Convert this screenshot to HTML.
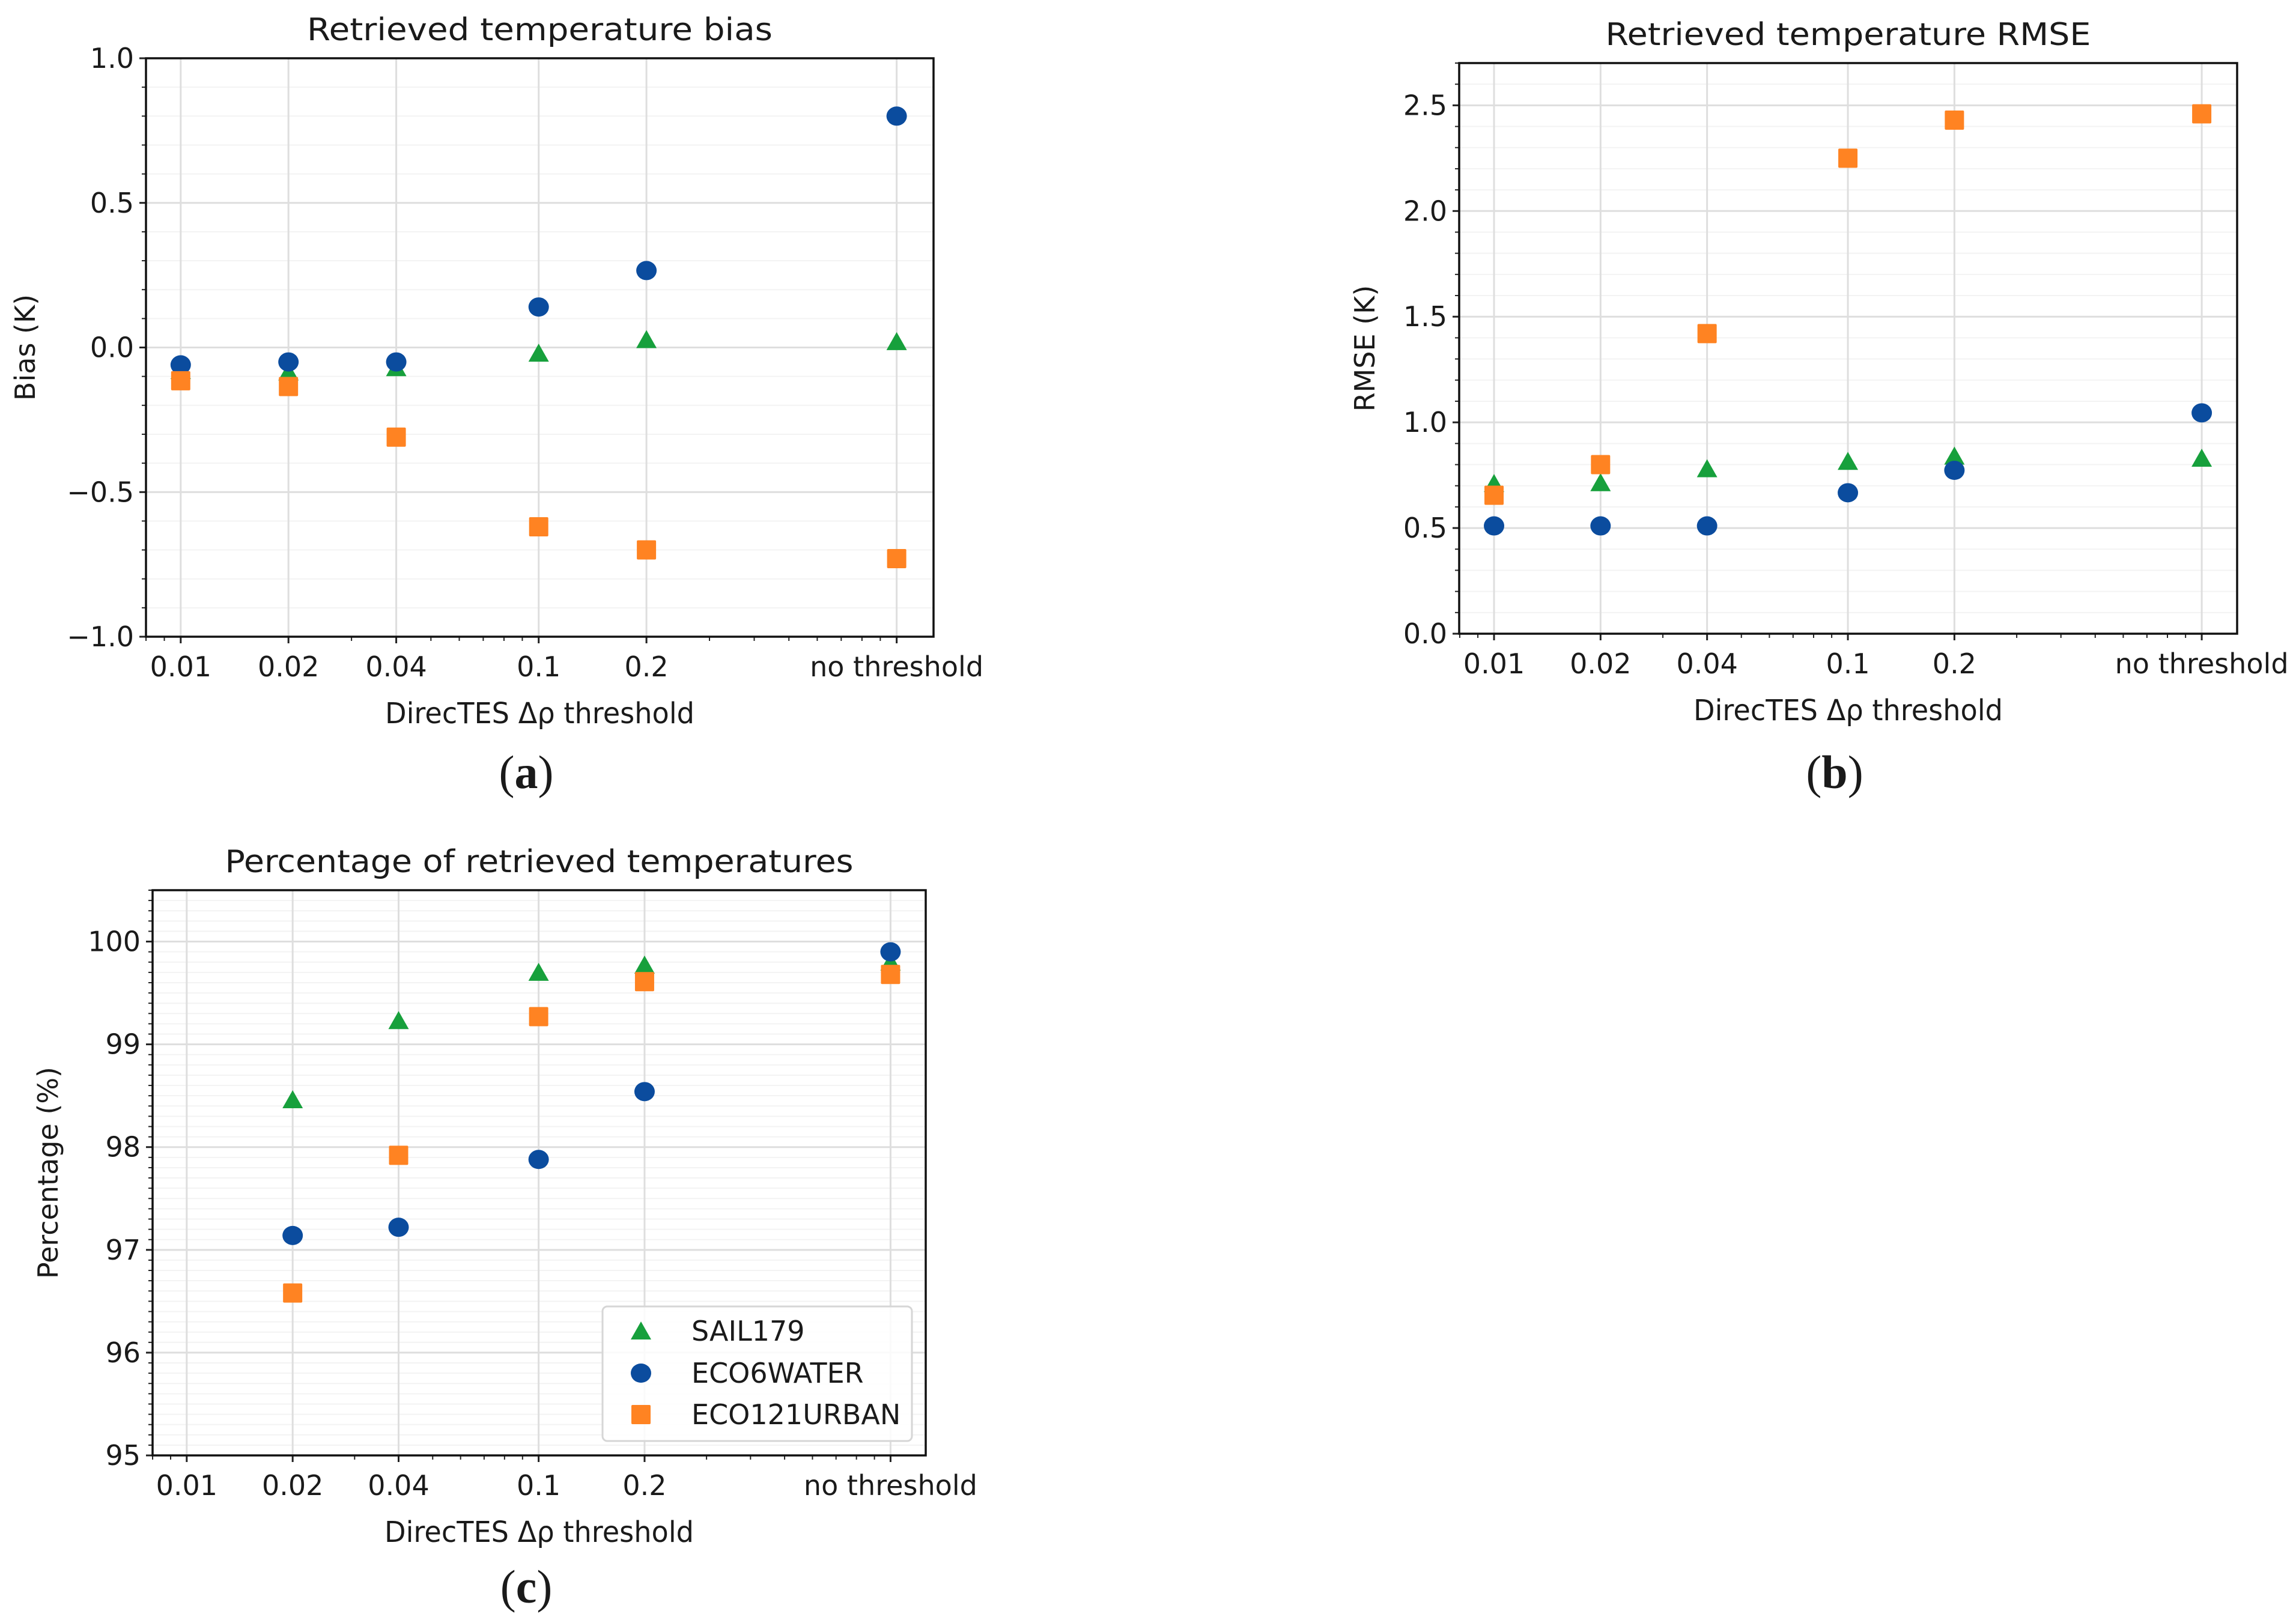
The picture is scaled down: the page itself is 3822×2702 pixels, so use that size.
<!DOCTYPE html>
<html><head><meta charset="utf-8">
<style>
html,body{margin:0;padding:0;background:#fff;}
svg{display:block;}
text{font-family:"DejaVu Sans","Liberation Sans",sans-serif;fill:#1a1a1a;}
.plab{font-family:"Liberation Serif",serif;}
</style></head>
<body>
<svg id="fig" width="3822" height="2702" viewBox="0 0 3822 2702" xmlns="http://www.w3.org/2000/svg"></svg>
<script>
const categories = ["0.01","0.02","0.04","0.1","0.2","no threshold"];
const catX = [0.01,0.02,0.04,0.1,0.2,1.0];
const biasSail = [-0.08,-0.085,-0.07,-0.02,0.027,0.02];
const biasWater = [-0.06,-0.05,-0.05,0.14,0.266,0.80];
const biasUrban = [-0.115,-0.135,-0.31,-0.62,-0.70,-0.73];
const rmseSail = [0.71,0.714,0.78,0.815,0.84,0.83];
const rmseWater = [0.51,0.51,0.51,0.667,0.773,1.045];
const rmseUrban = [0.655,0.80,1.42,2.25,2.43,2.46];
const pctSail = [null,98.46,99.23,99.70,99.77,99.80];
const pctWater = [null,97.14,97.22,97.88,98.54,99.90];
const pctUrban = [null,96.58,97.92,99.27,99.61,99.68];
const biasTicks = [-1.0,-0.5,0.0,0.5,1.0];
const biasTickLabels = ["\u22121.0","\u22120.5","0.0","0.5","1.0"];
const rmseTicks = [0,0.5,1.0,1.5,2.0,2.5];
const rmseTickLabels = ["0.0","0.5","1.0","1.5","2.0","2.5"];
const pctTicks = [95,96,97,98,99,100];
const pctTickLabels = ["95","96","97","98","99","100"];
const seriesNames = ["SAIL179","ECO6WATER","ECO121URBAN"];

const NS="http://www.w3.org/2000/svg";
const svg=document.getElementById('fig');
const COL={g:"#17a03c",b:"#0b4c9e",o:"#ff8322"};
function mk(tag,attrs,parent){const e=document.createElementNS(NS,tag);for(const k in attrs)e.setAttribute(k,attrs[k]);(parent||svg).appendChild(e);return e;}

function panel(cfg){
  const g=mk('g',{});
  
  
  const L=cfg.L,R=cfg.R,T=cfg.T,B=cfg.B;
  const xl=Math.log10(cfg.xmin),xr=Math.log10(cfg.xmax);
  const xs=v=>L+(Math.log10(v)-xl)/(xr-xl)*(R-L);
  const ys=v=>B-(v-cfg.ymin)/(cfg.ymax-cfg.ymin)*(B-T);
  for(let v=cfg.ymin;v<=cfg.ymax+1e-9;v+=cfg.minor){
    const y=ys(v);
    const l=mk('line',{x1:L,x2:R,y1:y,y2:y,stroke:"#f3f3f3","stroke-width":2},g);
    
    
    const t=mk('line',{x1:L-7,x2:L,y1:y,y2:y,stroke:"#222","stroke-width":2},g);
    
    
  }
  for(let d=-3;d<=1;d++){for(let m=1;m<10;m++){const v=m*Math.pow(10,d);if(v<cfg.xmin||v>cfg.xmax)continue;const x=xs(v);
    const t=mk('line',{x1:x,x2:x,y1:B,y2:B+7,stroke:"#222","stroke-width":2},g);
    
    }}
  cfg.yt.forEach((v,i)=>{const y=ys(v);
    const l=mk('line',{x1:L,x2:R,y1:y,y2:y,stroke:"#dedede","stroke-width":3},g);
    
    
    const t=mk('line',{x1:L-11,x2:L,y1:y,y2:y,stroke:"#222","stroke-width":3},g);
    
    
    const tx=mk('text',{x:L-20,y:y+16,'text-anchor':'end','font-size':46},g);
    tx.textContent=cfg.ytl[i];
    
    
  });
  categories.forEach((c,i)=>{const x=xs(catX[i]);
    const l=mk('line',{x1:x,x2:x,y1:T,y2:B,stroke:"#dedede","stroke-width":3},g);
    
    
    const t=mk('line',{x1:x,x2:x,y1:B,y2:B+11,stroke:"#222","stroke-width":3},g);
    
    
    const tx=mk('text',{x:x,y:B+66,'text-anchor':'middle','font-size':46},g);
    if(c==="no threshold"){tx.setAttribute('textLength',289);tx.setAttribute('lengthAdjust','spacingAndGlyphs');}
    tx.textContent=c;
    
    
  });
  const fr=mk('rect',{x:L,y:T,width:R-L,height:B-T,fill:"none",stroke:"#111","stroke-width":3.5},g);
  
  
  const drawS=(vals,kind,nm)=>{vals.forEach((v,i)=>{if(v===null)return;const x=xs(catX[i]),y=ys(v);let e;
    if(kind==='g')e=mk('polygon',{points:`${x},${y-16} ${x+17},${y+14} ${x-17},${y+14}`,fill:COL.g},g);
    else if(kind==='b')e=mk('ellipse',{cx:x,cy:y,rx:17,ry:16,fill:COL.b},g);
    else e=mk('rect',{x:x-16,y:y-16,width:32,height:32,rx:2,fill:COL.o},g);
    
    });};
  drawS(cfg.s[0],'g','sail179');drawS(cfg.s[1],'b','eco6water');drawS(cfg.s[2],'o','eco121urban');
  const ti=mk('text',{x:(L+R)/2,y:T-30,'text-anchor':'middle','font-size':52,textLength:cfg.tw,lengthAdjust:'spacingAndGlyphs'},g);
  ti.textContent=cfg.title;
  
  
  const xlab=mk('text',{x:(L+R)/2,y:B+144,'text-anchor':'middle','font-size':48,textLength:515,lengthAdjust:'spacingAndGlyphs'},g);
  xlab.textContent="DirecTES \u0394\u03C1 threshold";
  
  
  const yc=(T+B)/2;
  const ylab=mk('text',{x:cfg.ylx,y:yc,'text-anchor':'middle','font-size':46,transform:`rotate(-90 ${cfg.ylx} ${yc})`},g);
  ylab.textContent=cfg.ylabel;
  
  
  const pl=mk('text',{x:cfg.px,y:cfg.py,'text-anchor':'middle','font-size':78,'class':'plab'},g);
  pl.innerHTML='(<tspan font-weight="bold">'+cfg.plabel+'</tspan>)';
  
  
  return {g,xs,ys};
}

panel({name:'bias-panel',L:243,R:1554,T:97,B:1060,xmin:Math.pow(10,-2.097),xmax:Math.pow(10,0.103),ymin:-1,ymax:1,minor:0.1,
  yt:biasTicks,ytl:biasTickLabels,s:[biasSail,biasWater,biasUrban],title:"Retrieved temperature bias",tw:775,ylabel:"Bias (K)",ylx:58,plabel:'a',px:876,py:1312});
panel({name:'rmse-panel',L:2429,R:3724,T:105,B:1055,xmin:Math.pow(10,-2.0985),xmax:Math.pow(10,0.10),ymin:0,ymax:2.7,minor:0.1,
  yt:rmseTicks,ytl:rmseTickLabels,s:[rmseSail,rmseWater,rmseUrban],title:"Retrieved temperature RMSE",tw:808,ylabel:"RMSE (K)",ylx:2288,plabel:'b',px:3054,py:1312});
const pc=panel({name:'percentage-panel',L:254,R:1541,T:1482,B:2423,xmin:Math.pow(10,-2.097),xmax:Math.pow(10,0.10),ymin:95,ymax:100.5,minor:0.1,
  yt:pctTicks,ytl:pctTickLabels,s:[pctSail,pctWater,pctUrban],title:"Percentage of retrieved temperatures",tw:1046,ylabel:"Percentage (%)",ylx:96,plabel:'c',px:876,py:2668});

const lg=mk('g',{},pc.g);


const lb=mk('rect',{x:1003,y:2175,width:515,height:224,rx:8,fill:"#fff","fill-opacity":0.85,stroke:"#d6d6d6","stroke-width":3},lg);


const rowsY=[2216,2286,2355];
seriesNames.forEach((n,i)=>{const y=rowsY[i],x=1067;let e;
  if(i===0)e=mk('polygon',{points:`${x},${y-16} ${x+17},${y+14} ${x-17},${y+14}`,fill:COL.g},lg);
  else if(i===1)e=mk('ellipse',{cx:x,cy:y,rx:17,ry:16,fill:COL.b},lg);
  else e=mk('rect',{x:x-16,y:y-16,width:32,height:32,rx:2,fill:COL.o},lg);
  
  
  const t=mk('text',{x:1151,y:y+16,'font-size':46},lg);
  t.textContent=n;
  
  
});
</script>
</body></html>
